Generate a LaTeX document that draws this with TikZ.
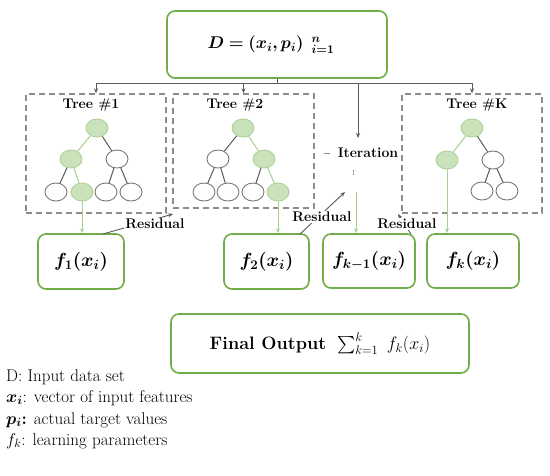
\RequirePackage{fix-cm}
\documentclass[tikz,border=0pt]{standalone}
\usepackage{amsmath,bm}
\usetikzlibrary{arrows.meta,shapes.geometric}
\definecolor{gborder}{HTML}{70AD47}
\definecolor{gfill}{HTML}{C9E2BA}
\definecolor{gline}{HTML}{A9D18E}
\definecolor{edgegray}{HTML}{5A5A5A}
\definecolor{dashgray}{HTML}{8C8C8C}
\tikzset{
 gbox/.style={draw=gborder, line width=1.6pt, rounded corners=8pt, fill=white, inner sep=0pt},
 treebox/.style={draw=dashgray, dash pattern=on 6pt off 4pt, line width=1.3pt, inner sep=0pt},
 tn/.style={ellipse, draw=edgegray!80, line width=0.9pt, minimum width=22pt, minimum height=18pt, inner sep=0pt, fill=white},
 tg/.style={tn, fill=gfill, draw=gfill!70!gborder},
 gedge/.style={draw=gline, line width=1pt},
 kedge/.style={draw=edgegray, line width=1pt},
 garrow/.style={draw=gline, line width=1pt, -{Stealth[length=5pt,width=4pt]}},
 karrow/.style={draw=edgegray, line width=0.9pt, -{Stealth[length=5pt,width=4pt]}},
 lbl/.style={font=\fontsize{14}{16}\selectfont\bfseries, inner sep=1pt},
 tlbl/.style={font=\fontsize{14}{16}\selectfont\bfseries, inner sep=1pt},
 rlbl/.style={lbl, fill=white},
 leg/.style={anchor=west, font=\fontsize{17}{19}\selectfont, inner sep=0pt},
}
\begin{document}
\begin{tikzpicture}[x=1pt,y=-1pt]
\fill[white] (0,0) rectangle (550,475);
\useasboundingbox (0,0) rectangle (550,475);

% top box
\node[gbox, minimum width=220pt, minimum height=67pt] (D) at (277,44.5) {\fontsize{17}{20}\selectfont $\boldsymbol{D=(x_i,p_i)\ \,{}^{n}_{i=1}}$\hspace*{12pt}};

% tree boxes
\node[treebox, minimum width=140pt, minimum height=119pt] (T1) at (96,153.5) {};
\node[treebox, minimum width=141pt, minimum height=114pt] (T2) at (243.5,151) {};
\node[treebox, minimum width=140pt, minimum height=119pt] (TK) at (472,153.5) {};
\node[tlbl] (T1l) at (91,105) {Tree \#1};
\node[tlbl] (T2l) at (235,105) {Tree \#2};
\node[tlbl] (TKl) at (477,105) {Tree \#K};

% bus
\coordinate (b0) at (277,83);
\coordinate (itop) at (358,83);
\coordinate (iend) at (358,138);
\draw[kedge] (D.south) -- (b0);
\draw[kedge] (T1.north |- b0) -- (TK.north |- b0);
\draw[karrow] (T1.north |- b0) -- (T1.north);
\draw[karrow] (T2.north |- b0) -- (T2.north);
\draw[karrow] (TK.north |- b0) -- (TK.north);
\draw[karrow] (itop) -- (iend);

% iteration
\node[lbl] (it) at (368,153) {Iteration};
\coordinate (d1) at (324,153);
\coordinate (d2) at (330,153);
\draw[draw=dashgray, line width=0.8pt] (d1) -- (d2);
\coordinate (v1) at (353,170);
\coordinate (v2) at (353,176);
\draw[draw=dashgray, line width=0.8pt, dash pattern=on 1.5pt off 1.5pt] (v1) -- (v2);

% tree 1
\node[tg] (a0) at (97,128) {};
\node[tg] (a1) at (71,159) {};
\node[tn] (a2) at (117,159) {};
\node[tn] (a3) at (56,192) {};
\node[tg] (a4) at (82,192) {};
\node[tn] (a5) at (106,192) {};
\node[tn] (a6) at (131,192) {};
\draw[gedge] (a0) -- (a1);
\draw[kedge] (a0) -- (a2);
\draw[kedge] (a1) -- (a3);
\draw[gedge] (a1) -- (a4);
\draw[kedge] (a2) -- (a5);
\draw[kedge] (a2) -- (a6);

% tree 2
\node[tg] (b0n) at (243,128) {};
\node[tn] (b1) at (218,159) {};
\node[tg] (b2) at (264,159) {};
\node[tn] (b3) at (204,192) {};
\node[tn] (b4) at (228,192) {};
\node[tn] (b5) at (253,192) {};
\node[tg] (b6) at (278,192) {};
\draw[kedge] (b0n) -- (b1);
\draw[gedge] (b0n) -- (b2);
\draw[kedge] (b1) -- (b3);
\draw[kedge] (b1) -- (b4);
\draw[kedge] (b2) -- (b5);
\draw[gedge] (b2) -- (b6);

% tree K
\node[tg] (c0) at (472,128) {};
\node[tg] (c1) at (447,160) {};
\node[tn] (c2) at (493,160) {};
\node[tn] (c3) at (482,191) {};
\node[tn] (c4) at (507,191) {};
\draw[gedge] (c0) -- (c1);
\draw[kedge] (c0) -- (c2);
\draw[kedge] (c2) -- (c3);
\draw[kedge] (c2) -- (c4);

% f boxes
\node[gbox, minimum width=86pt, minimum height=55pt] (f1) at (81,261.5) {\fontsize{19}{22}\selectfont $\boldsymbol{f_1(x_i)}$};
\node[gbox, minimum width=85pt, minimum height=55pt] (f2) at (266.5,261.5) {\fontsize{19}{22}\selectfont $\boldsymbol{f_2(x_i)}$};
\node[gbox, minimum width=92pt, minimum height=54pt] (fkm) at (369,261) {\fontsize{19}{22}\selectfont $\boldsymbol{f_{k-1}(x_i)}$};
\node[gbox, minimum width=92pt, minimum height=54pt] (fk) at (473,261) {\fontsize{19}{22}\selectfont $\boldsymbol{f_k(x_i)}$};

% green arrows to f boxes
\draw[garrow] (a4) -- (a4 |- f1.north);
\draw[garrow] (b6) -- (b6 |- f2.north);
\draw[garrow] (c1) -- (c1 |- fk.north);
\coordinate (g3) at (356,192);
\draw[garrow] (g3) -- (g3 |- fkm.north);

% residual connectors
\coordinate (r1s) at (103,234);
\coordinate (r1e) at (173,214);
\coordinate (r2s) at (300,234);
\coordinate (r2e) at (345,192);
\coordinate (r3s) at (411,234);
\coordinate (r3e) at (398,214);
\draw[karrow] (r1s) -- (r1e);
\draw[karrow] (r2s) -- (r2e);
\draw[karrow] (r3s) -- (r3e);
\node[rlbl] (res1) at (155,224) {Residual};
\node[rlbl] (res2) at (322,217) {Residual};
\node[rlbl] (res3) at (407,224) {Residual};

% final output
\node[gbox, minimum width=298pt, minimum height=59pt] (fo) at (320,343.5) {\fontsize{18}{21}\selectfont\textbf{Final Output}\ \ $\sum_{k=1}^{k}\ f_k(x_i)$};

% legend
\node[leg] (l1) at (6,377) {D: Input data set};
\node[leg] (l2) at (6,398) {$\boldsymbol{x_i}$: vector of input features};
\node[leg] (l3) at (6,420) {$\boldsymbol{p_i}$\textbf{:} actual target values};
\node[leg] (l4) at (6,441) {$f_k$: learning parameters};
\end{tikzpicture}
\end{document}
